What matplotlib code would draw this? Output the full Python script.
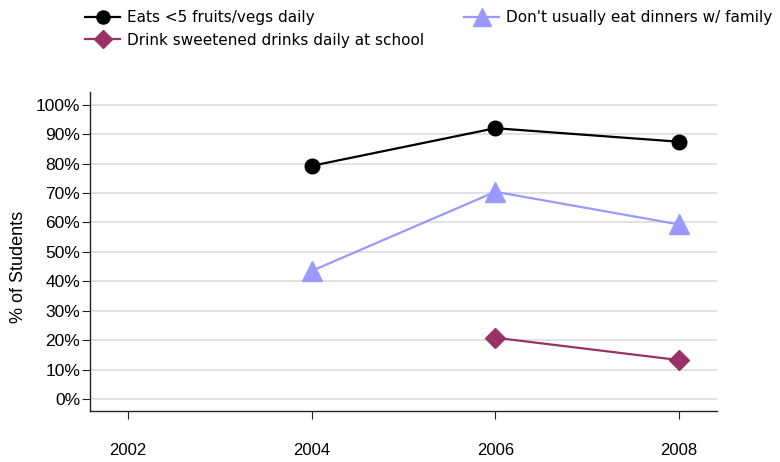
import numpy as np
import matplotlib.pyplot as plt

years = [2002, 2004, 2006, 2008]
fruits_years = [2004, 2006, 2008]
fruits = [79.2, 92.0, 87.4]
dinners_years = [2004, 2006, 2008]
dinners = [43.5, 70.4, 59.3]
drinks_years = [2006, 2008]
drinks = [20.8, 13.2]
yticks = list(range(0, 101, 10))

fig = plt.figure(figsize=(7.8, 4.62), dpi=100)
ax = fig.add_axes([90 / 780, 51 / 462, 627 / 780, 319 / 462])

l1, = ax.plot(fruits_years, fruits, color='black', lw=1.6, marker='o',
              markersize=10.5, label='Eats <5 fruits/vegs daily')
l3, = ax.plot(dinners_years, dinners, color='#9999FF', lw=1.6, marker='^',
              markersize=14, label="Don't usually eat dinners w/ family")
l2, = ax.plot(drinks_years, drinks, color='#993366', lw=1.6, marker='D',
              markersize=10, label='Drink sweetened drinks daily at school')

ax.set_xlim(2001.586, 2008.414)
ax.set_ylim(-4.1, 104.3)
ax.set_yticks(yticks)
ax.set_yticklabels([f'{v}%' for v in yticks])
ax.set_xticks(years)
ax.set_xticklabels([str(y) for y in years])

for s in ['top', 'right']:
    ax.spines[s].set_visible(False)
for s in ['left', 'bottom']:
    ax.spines[s].set_color('#222222')
    ax.spines[s].set_linewidth(1.0)

ax.grid(axis='y', color='#dddddd', lw=1.2)
ax.set_axisbelow(True)

ax.tick_params(axis='y', length=6, pad=1, labelsize=12.5, color='#222222')
ax.tick_params(axis='x', length=6, pad=17, labelsize=12, color='#222222')
for t in ax.get_xticklabels() + ax.get_yticklabels():
    t.set_family('Liberation Sans')

# y label sits a bit below the axes centre in the original
fig.text(19 / 780, 1 - 267 / 462, '% of Students', rotation=90,
         ha='center', va='center', fontsize=13, family='Liberation Sans')

fig.legend(handles=[l1, l2, l3], ncol=2, loc='upper left',
           bbox_to_anchor=(79 / 780, 1 - 4 / 462), frameon=False,
           prop={'family': 'DejaVu Sans', 'size': 11},
           handlelength=2.3, handletextpad=0.45, columnspacing=2.6,
           labelspacing=0.5, borderaxespad=0, markerscale=0.9)

fig.savefig('out.png', dpi=100)
